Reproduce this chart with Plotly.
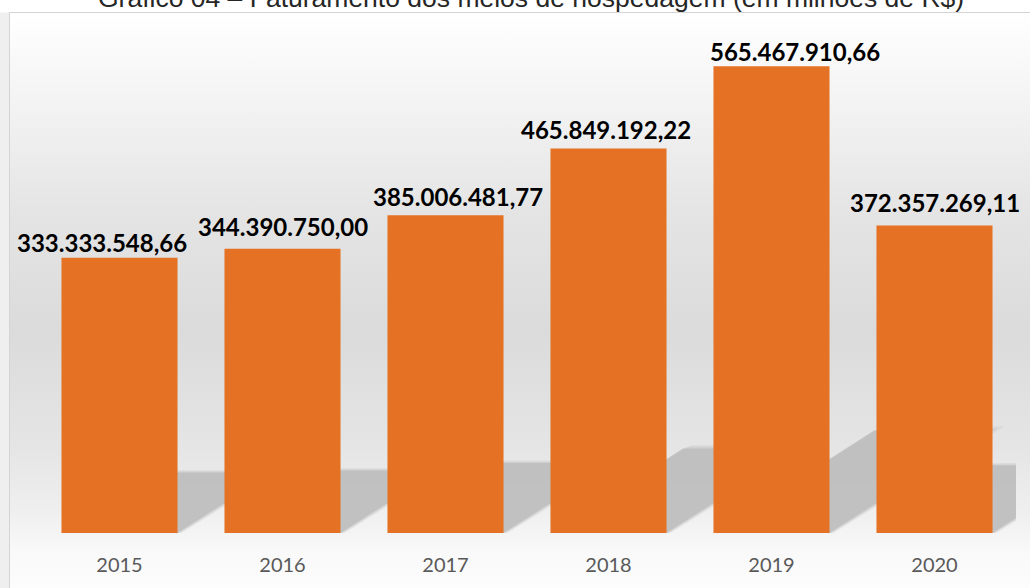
import base64
import plotly.graph_objects as go

# ---- data ----
years = ["2015", "2016", "2017", "2018", "2019", "2020"]
revenue = [333333548.66, 344390750.00, 385006481.77, 465849192.22, 565467910.66, 372357269.11]
title_text = "Gráfico 04 – Faturamento dos meios de hospedagem (em milhões de R$)"

# label placement tweaks (pixels) as in the original chart
label_dx = [-18, 0, 12, -3, 23, 0]
label_gap = [7, 14, 10, 10.5, 6.5, 15]


def br_fmt(v):
    return f"{v:,.2f}".replace(",", "X").replace(".", ",").replace("X", ".")


labels = [br_fmt(v) for v in revenue]

# ---- layout constants ----
W, H = 1030, 588
ML, MR, MT, MB = 38, 14, 12, 55
plot_w = W - ML - MR
plot_h = H - MT - MB
YMAX = 631.1e6
BAR_W = 0.712
BAR_COLOR = "#E57124"
DESC = 8  # descender space below baseline in annotation box

px_per_unit = plot_h / YMAX
cat_px = plot_w / len(years)


def px_to_paper_y(py):
    return (H - MB - py) / plot_h


def px_to_paper_x(px):
    return (px - ML) / plot_w


# background gradient (inside frame)
stops = [(0, "#FFFFFF"), (0.12, "#F6F6F6"), (0.35, "#E4E4E4"), (0.55, "#DBDBDB"),
         (0.75, "#E5E5E5"), (0.86, "#EFEFEF"), (0.93, "#F9F9F9"), (1, "#FDFDFD")]
stop_svg = "".join(f'<stop offset="{o}" stop-color="{c}"/>' for o, c in stops)
svg = ('<svg xmlns="http://www.w3.org/2000/svg" width="100" height="100" preserveAspectRatio="none">'
       '<defs><linearGradient id="g" x1="0" y1="0" x2="0" y2="1">' + stop_svg +
       '</linearGradient></defs><rect width="100" height="100" fill="url(#g)"/></svg>')
bg_src = "data:image/svg+xml;base64," + base64.b64encode(svg.encode()).decode()

fx0 = px_to_paper_x(9.5)
fx1 = px_to_paper_x(W + 5)
fy1 = px_to_paper_y(12.5)
fy0 = px_to_paper_y(H + 5)

fig = go.Figure()
fig.add_trace(go.Bar(
    x=years, y=revenue, width=BAR_W,
    marker=dict(color=BAR_COLOR, line=dict(width=0)),
    hoverinfo="skip",
))

shapes = []
# frame
shapes.append(dict(type="rect", xref="paper", yref="paper", x0=fx0, x1=fx1, y0=fy0, y1=fy1,
                   line=dict(color="#D4D4D4", width=1), fillcolor="rgba(0,0,0,0)", layer="above"))
# left textured strip
shapes.append(dict(type="rect", xref="paper", yref="paper", x0=px_to_paper_x(-5), x1=fx0,
                   y0=fy0, y1=fy1, line=dict(width=0), fillcolor="#EFEFEF", layer="below"))

# cast shadows behind bars
SH_A, SH_B = 0.345, 0.22
for i, v in enumerate(revenue):
    xl, xr = i - BAR_W / 2, i + BAR_W / 2
    for grow, op in [(0.06, 0.25), (0.03, 0.35), (0.0, 0.85)]:
        dx = SH_A * v * px_per_unit / cat_px * (1 + grow)
        top = SH_B * v * (1 + grow * 0.6)
        path = (f"M {xl} 0 L {xr + grow * 0.4} 0 L {xr + dx + grow * 0.4} {top} "
                f"L {xl + dx} {top} Z")
        shapes.append(dict(type="path", xref="x", yref="y", path=path,
                           fillcolor="#BDBDBD", opacity=op, line=dict(width=0), layer="below"))

annotations = [dict(text=title_text, xref="paper", yref="paper",
                    x=px_to_paper_x(531), y=px_to_paper_y(-2), xanchor="center", yanchor="middle",
                    showarrow=False,
                    font=dict(family="Liberation Sans", size=26.5, color="#262626"))]
for i, (v, lab) in enumerate(zip(revenue, labels)):
    annotations.append(dict(
        text=lab, x=i, y=v, xref="x", yref="y", xanchor="center", yanchor="bottom",
        xshift=label_dx[i], yshift=label_gap[i] - DESC, showarrow=False,
        font=dict(family="Lato", size=24, color="#000000", weight="bold"),
    ))

fig.update_layout(
    width=W, height=H,
    margin=dict(l=ML, r=MR, t=MT, b=MB),
    paper_bgcolor="#FFFFFF",
    plot_bgcolor="rgba(0,0,0,0)",
    showlegend=False,
    bargap=1 - BAR_W,
    xaxis=dict(type="category", showgrid=False, zeroline=False, showline=False,
               ticks="outside", ticklen=14, tickcolor="rgba(0,0,0,0)",
               tickfont=dict(family="Lato", size=20, color="#595959"),
               range=[-0.5, len(years) - 0.5]),
    yaxis=dict(visible=False, range=[0, YMAX], showgrid=False, zeroline=False),
    images=[dict(source=bg_src, xref="paper", yref="paper", x=fx0, y=fy1,
                 sizex=fx1 - fx0, sizey=fy1 - fy0, xanchor="left", yanchor="top",
                 sizing="stretch", layer="below")],
    shapes=shapes,
    annotations=annotations,
)

fig.write_html("out.html", config={"displayModeBar": False},
               post_script="document.body.style.margin='0';document.body.style.overflow='hidden';")
